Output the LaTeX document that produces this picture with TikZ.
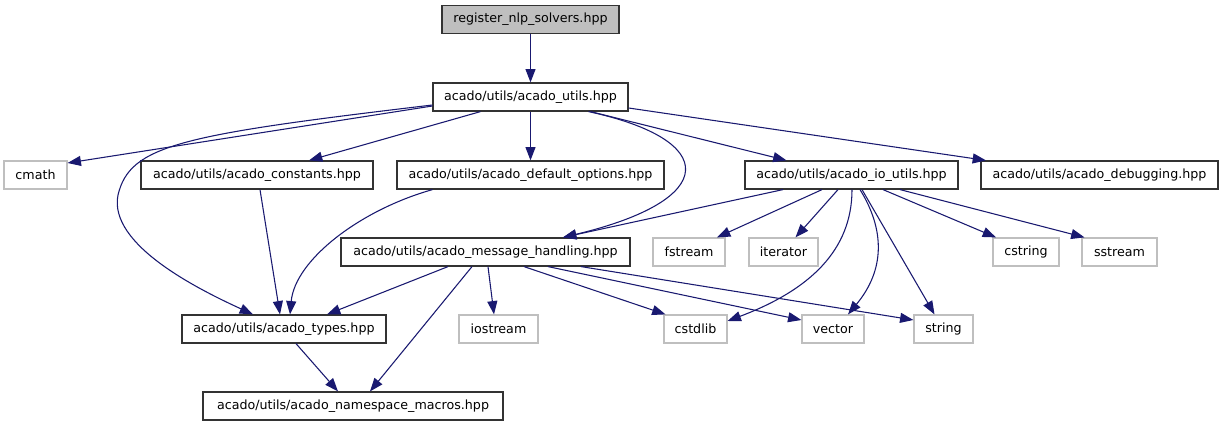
\documentclass[tikz,border=0pt]{standalone}
\usepackage{fontspec}
\setmainfont{DejaVu Sans}
\usetikzlibrary{calc,arrows.meta}
\definecolor{edgecol}{HTML}{191970}
\definecolor{lgray}{HTML}{BFBFBF}
\begin{document}
\begin{tikzpicture}[x=0.75pt,y=-0.75pt,
  base/.style={rectangle, inner sep=0pt, minimum height=21pt, font=\fontsize{9.5}{11}\selectfont, text=black, line width=0.9pt},
  hdr/.style={base, draw=black!80},
  sys/.style={base, draw=lgray},
  root/.style={base, draw=black!80, fill=lgray},
  bw/.style={minimum width=#1*0.75pt},
  dep/.style={draw=edgecol, line width=0.8pt, -{Triangle[length=10pt,width=7.5pt]}}
]
\useasboundingbox (0,0) rectangle (1223,427);
\fill[white] (0,0) rectangle (1223,427);

\node[root,bw=177] (reg) at (530.5,19.5) {register\_nlp\_solvers.hpp};
\node[hdr,bw=195] (utils) at (530.5,97) {acado/utils/acado\_utils.hpp};
\node[sys,bw=63] (cmath) at (35.5,175) {cmath};
\node[hdr,bw=232] (const) at (257,175) {acado/utils/acado\_constants.hpp};
\node[hdr,bw=267] (defopt) at (530.5,175) {acado/utils/acado\_default\_options.hpp};
\node[hdr,bw=213] (io) at (851.5,175) {acado/utils/acado\_io\_utils.hpp};
\node[hdr,bw=237] (debug) at (1099.5,175) {acado/utils/acado\_debugging.hpp};
\node[hdr,bw=289] (msg) at (485.5,252) {acado/utils/acado\_message\_handling.hpp};
\node[sys,bw=72] (fstream) at (689,252) {fstream};
\node[sys,bw=69] (iterator) at (783.5,252) {iterator};
\node[sys,bw=66] (cstring) at (1026,252) {cstring};
\node[sys,bw=75] (sstream) at (1119.5,252) {sstream};
\node[hdr,bw=204] (types) at (284,329) {acado/utils/acado\_types.hpp};
\node[sys,bw=79] (iostream) at (498.5,329) {iostream};
\node[sys,bw=63] (cstdlib) at (695.5,329) {cstdlib};
\node[sys,bw=62] (vector) at (833,329) {vector};
\node[sys,bw=59] (string) at (943.5,329) {string};
\node[hdr,bw=300] (ns) at (353,406) {acado/utils/acado\_namespace\_macros.hpp};

% edges
\draw[dep] (reg.south) -- (utils.north);
\draw[dep] ($(utils.west)+(0,9)$) -- ($(cmath.east)+(0,-12)$);
\draw[dep] ($(utils.west)+(0,8)$) .. controls (180,135) and (130,145) .. (118,195)
  .. controls (108,245) and (200,290) .. ($(types.north)+(-31,0)$);
\draw[dep] ($(utils.south)+(-50,0)$) -- ($(const.north)+(52,0)$);
\draw[dep] (utils.south) -- (defopt.north);
\draw[dep] ($(utils.south)+(60,0)$) -- ($(io.north)+(-65,0)$);
\draw[dep] ($(utils.east)+(0,11)$) -- ($(debug.north)+(-113.5,0)$);
\draw[dep] ($(utils.south)+(58,0)$) .. controls (720,140) and (720,200) .. ($(msg.north)+(77.5,0)$);

\draw[dep] ($(io.south)+(-68.5,0)$) -- ($(msg.north)+(77.5,0)$);
\draw[dep] ($(io.south)+(-29.5,0)$) -- ($(fstream.north)+(28,0)$);
\draw[dep] ($(io.south)+(-13.5,0)$) -- ($(iterator.north)+(12,0)$);
\draw[dep] ($(io.south)+(0.5,0)$) .. controls (852,250) and (810,290) .. ($(cstdlib.east)+(0,-8)$);
\draw[dep] ($(io.south)+(8.5,0)$) .. controls (885,230) and (885,270) .. ($(vector.north)+(15,0)$);
\draw[dep] ($(io.south)+(10.5,0)$) -- ($(string.north)+(-9,0)$);
\draw[dep] ($(io.south)+(31.5,0)$) -- ($(cstring.north)+(-30,0)$);
\draw[dep] ($(io.south)+(48.5,0)$) -- ($(sstream.north)+(-35,0)$);

\draw[dep] ($(const.south)+(3,0)$) -- ($(types.north)+(-4,0)$);
\draw[dep] ($(defopt.south)+(-98,0)$) .. controls (360,210) and (295,260) .. ($(types.north)+(6,0)$);

\draw[dep] ($(msg.south)+(-37.5,0)$) -- ($(types.north)+(43,0)$);
\draw[dep] ($(msg.south)+(-13.5,0)$) -- ($(ns.north)+(17,0)$);
\draw[dep] ($(msg.south)+(2.5,0)$) -- ($(iostream.north)+(-4.5,0)$);
\draw[dep] ($(msg.south)+(38.5,0)$) -- ($(cstdlib.north)+(-30,0)$);
\draw[dep] ($(msg.south)+(62.5,0)$) -- ($(vector.west)+(0,-9)$);
\draw[dep] ($(msg.south)+(95.5,0)$) -- ($(string.west)+(0,-9)$);

\draw[dep] ($(types.south)+(12,0)$) -- ($(ns.north)+(-15,0)$);
\end{tikzpicture}
\end{document}
